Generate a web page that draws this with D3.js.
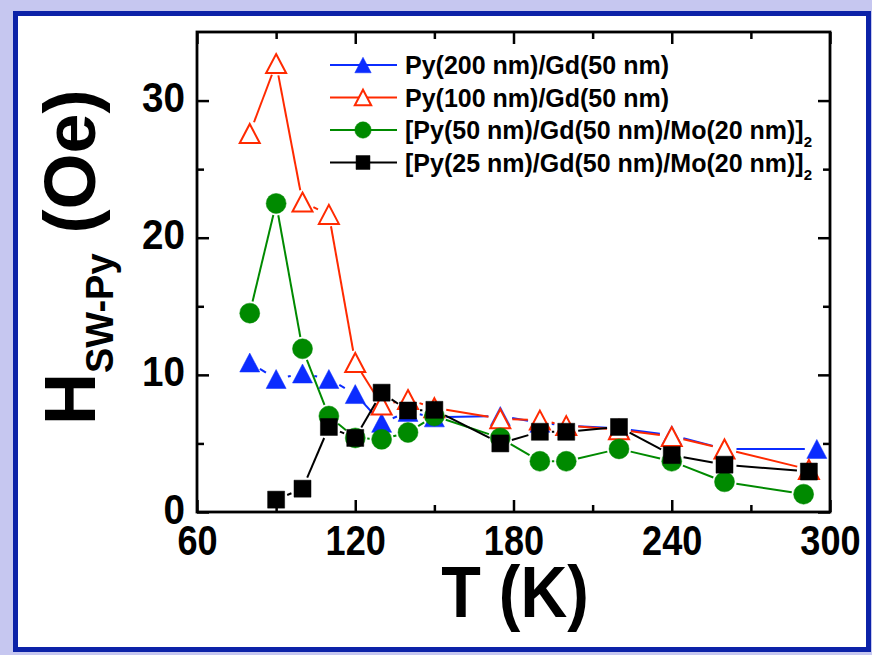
<!DOCTYPE html>
<html>
<head>
<meta charset="utf-8">
<script src="https://cdn.jsdelivr.net/npm/d3@7/dist/d3.min.js"></script>
<style>
  html, body { margin: 0; padding: 0; background: #fff; }
  svg { display: block; }
  text { font-family: "Liberation Sans", Arial, sans-serif; font-weight: bold; fill: #000; }
</style>
</head>
<body>
<svg id="chart" width="872" height="655"></svg>
<script>
// Switching field of the permalloy layer versus temperature
const tBlue  = [80, 90, 100, 110, 120, 130, 140, 150, 175, 190, 200, 220, 240, 260, 295];
const hBlue  = [10.9, 9.7, 10.1, 9.7, 8.6, 6.5, 7.3, 6.9, 7.0, 6.5, 6.3, 6.1, 5.6, 4.6, 4.6];

const tRed   = [80, 90, 100, 110, 120, 130, 140, 150, 175, 190, 200, 220, 240, 260, 292];
const hRed   = [27.6, 32.7, 22.6, 21.7, 10.9, 7.8, 8.2, 7.6, 6.8, 6.7, 6.3, 6.0, 5.5, 4.6, 3.1];

const tGreen = [80, 90, 100, 110, 120, 130, 140, 150, 175, 190, 200, 220, 240, 260, 290];
const hGreen = [14.5, 22.5, 11.9, 7.0, 5.4, 5.3, 5.8, 7.0, 5.4, 3.7, 3.7, 4.6, 3.7, 2.2, 1.3];

const tBlack = [90, 100, 110, 120, 130, 140, 150, 175, 190, 200, 220, 240, 260, 292];
const hBlack = [0.9, 1.7, 6.2, 5.4, 8.7, 7.4, 7.45, 5.0, 5.85, 5.85, 6.2, 4.15, 3.45, 2.95];

const legendLabels = [
  "Py(200 nm)/Gd(50 nm)",
  "Py(100 nm)/Gd(50 nm)",
  "[Py(50 nm)/Gd(50 nm)/Mo(20 nm)]",
  "[Py(25 nm)/Gd(50 nm)/Mo(20 nm)]"
];
const legendSubs = ["", "", "2", "2"];

const xMajor = [60, 120, 180, 240, 300];
const xMinor = [90, 150, 210, 270];
const yMajor = [0, 10, 20, 30];
const yMinor = [5, 15, 25];

const series = [
  { t: tBlue,  h: hBlue,  color: "#0b2cff", shape: "triangle", fill: "#0b2cff" },
  { t: tRed,   h: hRed,   color: "#ff2a00", shape: "triangle", fill: "#ffffff" },
  { t: tGreen, h: hGreen, color: "#008a00", shape: "circle",   fill: "#008a00" },
  { t: tBlack, h: hBlack, color: "#000000", shape: "square",   fill: "#000000" }
];

const svg = d3.select("#chart");
const W = 872, H = 655;

// Page background and framed panel
svg.append("rect").attr("width", W).attr("height", H).attr("fill", "#c6c7f0");
svg.append("rect").attr("x", 15.5).attr("y", 13.5).attr("width", 853).attr("height", 636)
  .attr("fill", "#ffffff").attr("stroke", "#0c22a8").attr("stroke-width", 5);

const L = 197, R = 830, T = 32, B = 512;
const x = d3.scaleLinear().domain([60, 300]).range([L, R]);
const y = d3.scaleLinear().domain([0, 35]).range([B, T]);

const tickW = 2.5;
function styleTicks(g) {
  g.select(".domain").remove();
  g.selectAll(".tick line").attr("stroke", "#000").attr("stroke-width", tickW);
}

// Bottom axis with labels
const gx = svg.append("g").attr("transform", `translate(0,${B})`)
  .call(d3.axisBottom(x).tickValues(xMajor).tickSizeInner(-12).tickSizeOuter(0).tickFormat(d3.format("d")));
styleTicks(gx);
gx.attr("font-family", null).attr("font-size", null);
gx.selectAll(".tick text")
  .attr("y", 0).attr("dy", null)
  .attr("transform", "translate(0,43) scale(0.86,1)")
  .style("font-size", "42px");

svg.append("g").attr("transform", `translate(0,${B})`)
  .call(d3.axisBottom(x).tickValues(xMinor).tickSizeInner(-7).tickSizeOuter(0).tickFormat(""))
  .call(styleTicks);

// Top axis, ticks only
svg.append("g").attr("transform", `translate(0,${T})`)
  .call(d3.axisTop(x).tickValues(xMajor).tickSizeInner(-12).tickSizeOuter(0).tickFormat(""))
  .call(styleTicks);
svg.append("g").attr("transform", `translate(0,${T})`)
  .call(d3.axisTop(x).tickValues(xMinor).tickSizeInner(-7).tickSizeOuter(0).tickFormat(""))
  .call(styleTicks);

// Left axis with labels
const gy = svg.append("g").attr("transform", `translate(${L},0)`)
  .call(d3.axisLeft(y).tickValues(yMajor).tickSizeInner(-12).tickSizeOuter(0).tickFormat(d3.format("d")));
styleTicks(gy);
gy.attr("font-family", null).attr("font-size", null);
gy.selectAll(".tick text")
  .attr("x", 0).attr("dy", null)
  .attr("transform", "translate(-12,11) scale(0.92,1)")
  .attr("text-anchor", "end")
  .style("font-size", "42px");

svg.append("g").attr("transform", `translate(${L},0)`)
  .call(d3.axisLeft(y).tickValues(yMinor).tickSizeInner(-7).tickSizeOuter(0).tickFormat(""))
  .call(styleTicks);

// Right axis, ticks only
svg.append("g").attr("transform", `translate(${R},0)`)
  .call(d3.axisRight(y).tickValues(yMajor).tickSizeInner(-12).tickSizeOuter(0).tickFormat(""))
  .call(styleTicks);
svg.append("g").attr("transform", `translate(${R},0)`)
  .call(d3.axisRight(y).tickValues(yMinor).tickSizeInner(-7).tickSizeOuter(0).tickFormat(""))
  .call(styleTicks);

// Plot frame
svg.append("rect").attr("x", L).attr("y", T).attr("width", R - L).attr("height", B - T)
  .attr("fill", "none").attr("stroke", "#000").attr("stroke-width", 2.8);

// Marker path generator (box-centred shapes)
function markerPath(shape, cx, cy, k) {
  if (shape === "triangle") {
    const w = 20 * k, h = 19 * k;
    return `M${cx},${cy - h / 2}L${cx + w / 2},${cy + h / 2}L${cx - w / 2},${cy + h / 2}Z`;
  }
  if (shape === "square") {
    const s = 17 * k;
    return `M${cx - s / 2},${cy - s / 2}h${s}v${s}h${-s}Z`;
  }
  const r = 10 * k;
  return `M${cx - r},${cy}a${r},${r} 0 1,0 ${2 * r},0a${r},${r} 0 1,0 ${-2 * r},0Z`;
}

// Connecting lines with a small gap around each symbol
const gap = 12;
series.forEach(s => {
  const g = svg.append("g");
  const pts = s.t.map((t, i) => [x(t), y(s.h[i])]);
  for (let i = 0; i < pts.length - 1; i++) {
    const [x0, y0] = pts[i], [x1, y1] = pts[i + 1];
    const dx = x1 - x0, dy = y1 - y0, len = Math.hypot(dx, dy);
    if (len <= 2 * gap) continue;
    const ux = dx / len, uy = dy / len;
    g.append("line")
      .attr("x1", x0 + ux * gap).attr("y1", y0 + uy * gap)
      .attr("x2", x1 - ux * gap).attr("y2", y1 - uy * gap)
      .attr("stroke", s.color).attr("stroke-width", 2);
  }
  g.selectAll("path").data(pts).join("path")
    .attr("d", d => markerPath(s.shape, d[0], d[1], 1))
    .attr("fill", s.fill)
    .attr("stroke", s.color)
    .attr("stroke-width", s.fill === "#ffffff" ? 2 : 0.5);
});

// Legend
const legX0 = 330, legX1 = 397, legMid = 363, legText = 405;
const legY = [65, 97.5, 130, 162.5];
series.forEach((s, i) => {
  const cy = legY[i];
  svg.append("line").attr("x1", legX0).attr("x2", legX1).attr("y1", cy).attr("y2", cy)
    .attr("stroke", s.color).attr("stroke-width", 2);
  svg.append("path").attr("d", markerPath(s.shape, legMid, cy, 0.82))
    .attr("fill", s.fill).attr("stroke", s.color)
    .attr("stroke-width", s.fill === "#ffffff" ? 2 : 0.5);
  const t = svg.append("text").attr("x", legText).attr("y", cy + 9).style("font-size", "25px");
  t.append("tspan").text(legendLabels[i]);
  if (legendSubs[i]) {
    t.append("tspan").attr("dy", 8).style("font-size", "15px").text(legendSubs[i]);
  }
});

// Axis titles
svg.append("text")
  .attr("transform", "translate(515,617) scale(0.9,1)")
  .attr("text-anchor", "middle")
  .style("font-size", "72px")
  .text("T (K)");

const yt = svg.append("text")
  .attr("transform", "translate(95,425) rotate(-90)")
  .style("font-size", "72px");
yt.append("tspan").text("H");
yt.append("tspan").attr("dy", 18).style("font-size", "38px").text("SW-Py");
yt.append("tspan").attr("dy", -18).text(" (Oe)");
</script>
</body>
</html>
